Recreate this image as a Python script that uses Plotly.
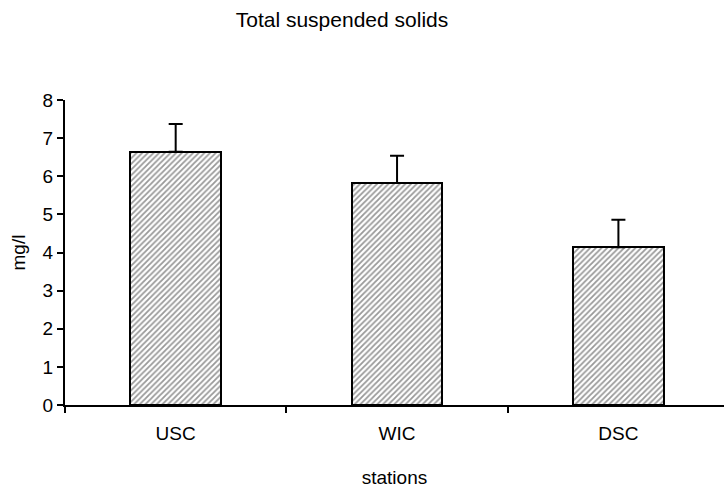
import plotly.graph_objects as go

stations = ["USC", "WIC", "DSC"]
tss_mean = [6.64, 5.82, 4.14]
tss_err = [0.73, 0.72, 0.72]
y_ticks = [0, 1, 2, 3, 4, 5, 6, 7, 8]

fig = go.Figure()
fig.add_trace(go.Bar(
    x=stations,
    y=tss_mean,
    width=0.41,
    marker=dict(
        color="white",
        line=dict(color="black", width=2),
        pattern=dict(shape="/", fgcolor="#333333", bgcolor="white", size=4, solidity=0.45),
    ),
    error_y=dict(type="data", array=tss_err, arrayminus=[0, 0, 0], symmetric=False,
                 color="black", thickness=2, width=7),
))

fig.update_layout(
    width=724, height=488,
    margin=dict(l=65, r=0, t=100, b=83),
    paper_bgcolor="white", plot_bgcolor="white",
    font=dict(family="Liberation Sans, Arial, sans-serif", size=19, color="black"),
    title=dict(text="Total suspended solids", x=342/724, xanchor="center",
               y=1 - 20/488, yanchor="middle", font=dict(size=21)),
    showlegend=False,
    bargap=0,
)
fig.update_xaxes(
    range=[-0.5, 2.477], showline=True, linecolor="black", linewidth=2,
    ticks="outside", tickson="boundaries", ticklen=6, tickwidth=1.5, tickcolor="black",
    ticklabelstandoff=10,
    title=dict(text="stations", standoff=30, font=dict(size=19)),
    showgrid=False, zeroline=False,
)
fig.update_yaxes(
    range=[0, 8], tickvals=y_ticks, showline=True, linecolor="black", linewidth=2,
    ticks="outside", ticklen=6, tickwidth=1.5, tickcolor="black",
    title=dict(text="mg/l", standoff=12, font=dict(size=19)),
    showgrid=False, zeroline=False,
)

fig.write_html("out.html")
